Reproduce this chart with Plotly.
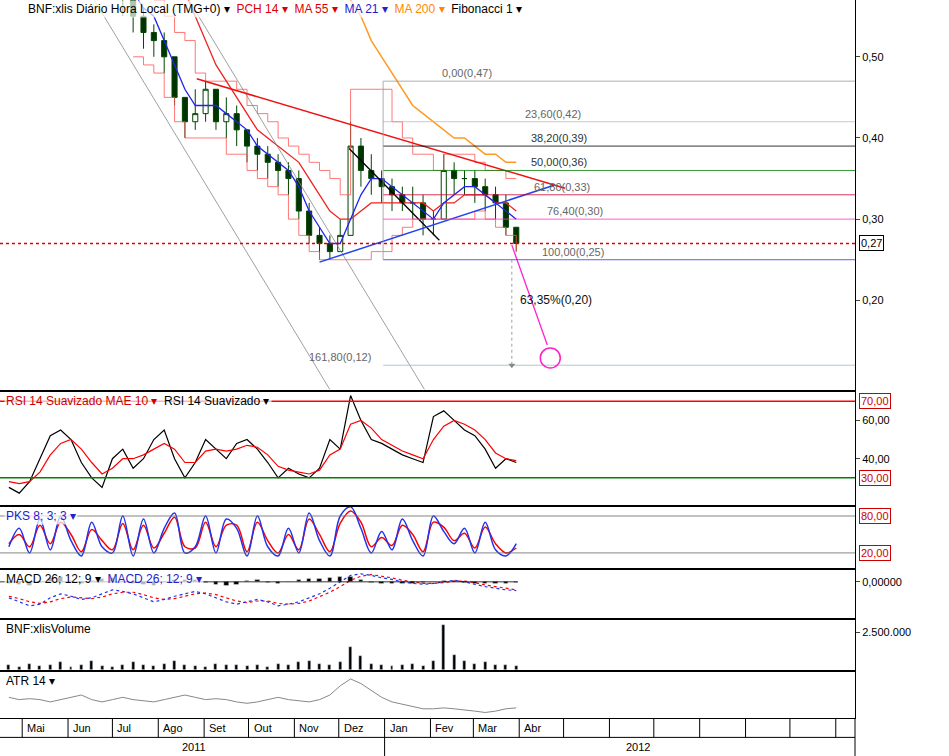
import pandas as pd
import plotly.graph_objects as go
from plotly.subplots import make_subplots

dates = pd.date_range("2011-04-22", periods=50, freq="7D")
close = [0.78,0.76,0.74,0.72,0.70,0.68,0.66,0.64,0.62,0.60,0.59,0.58,
         0.55,0.53,0.52,0.50,0.45,0.42,0.43,0.46,0.42,0.43,0.41,0.39,0.38,0.37,0.36,0.35,
         0.31,0.28,0.27,0.26,0.28,0.39,0.36,0.35,0.34,0.33,0.32,0.32,0.30,0.30,
         0.36,0.35,0.35,0.34,0.33,0.32,0.29,0.27]
high = [0.80,0.78,0.77,0.75,0.73,0.71,0.69,0.67,0.65,0.63,0.62,0.61,
        0.56,0.56,0.54,0.53,0.50,0.45,0.46,0.47,0.46,0.45,0.44,0.41,0.40,0.39,0.38,0.37,
        0.36,0.32,0.29,0.28,0.30,0.42,0.40,0.38,0.36,0.35,0.34,0.34,0.33,0.31,
        0.38,0.37,0.36,0.36,0.35,0.34,0.33,0.29]
low = [0.76,0.74,0.72,0.70,0.68,0.66,0.64,0.62,0.60,0.58,0.57,0.55,
       0.53,0.51,0.50,0.48,0.44,0.40,0.41,0.42,0.41,0.40,0.39,0.37,0.36,0.35,0.34,0.33,
       0.30,0.27,0.25,0.25,0.26,0.28,0.34,0.33,0.32,0.31,0.31,0.30,0.28,0.28,
       0.30,0.33,0.33,0.32,0.31,0.30,0.28,0.26]
opn = [close[0] + 0.01] + close[:-1]

ma21 = [0.85,0.83,0.81,0.79,0.77,0.75,0.73,0.70,0.67,0.64,0.62,0.60,
        0.58,0.56,0.55,0.52,0.49,0.46,0.44,0.44,0.44,0.43,0.42,0.41,0.39,0.38,0.37,0.36,
        0.34,0.31,0.29,0.27,0.27,0.30,0.33,0.35,0.35,0.34,0.33,0.32,0.31,0.30,
        0.32,0.33,0.34,0.34,0.33,0.32,0.31,0.30]
ma55 = [None]*12 + [0.72,0.69,0.66,0.63,0.61,0.58,0.55,0.52,0.49,0.47,0.45,0.43,0.41,0.40,0.39,0.38,
        0.37,0.35,0.33,0.31,0.30,0.30,0.31,0.32,0.32,0.32,0.32,0.32,0.32,0.31,
        0.32,0.32,0.33,0.33,0.33,0.32,0.32,0.31]
ma200 = [None]*32 + [0.60,0.57,0.55,0.52,0.50,0.48,0.46,0.44,0.43,0.42,0.41,0.40,0.40,0.39,0.38,0.38,0.37,0.37]
pch_hi = [None]*12 + [0.60,0.58,0.57,0.55,0.53,0.52,0.48,0.47,0.47,0.47,0.46,0.44,0.43,0.42,0.40,0.39,
          0.38,0.37,0.36,0.35,0.33,0.46,0.46,0.46,0.46,0.42,0.40,0.38,0.38,0.36,
          0.38,0.38,0.38,0.37,0.36,0.36,0.35,0.35]
pch_lo = [None]*12 + [0.50,0.49,0.48,0.45,0.42,0.40,0.40,0.40,0.40,0.38,0.38,0.36,0.35,0.34,0.33,0.30,
          0.28,0.26,0.25,0.25,0.25,0.25,0.25,0.26,0.26,0.28,0.29,0.30,0.30,0.30,
          0.30,0.30,0.30,0.31,0.30,0.29,0.28,0.26]

rsi = [25,22,28,40,52,55,50,38,30,25,40,45,35,40,50,55,40,30,38,50,45,40,48,50,45,38,30,35,32,30,
       35,50,45,73,60,50,48,45,42,40,38,62,65,60,55,52,45,35,40,38]
rsi_ma = [28,27,28,33,42,48,50,45,38,32,35,40,40,42,45,48,45,38,38,44,45,44,45,47,46,42,36,34,33,32,
          34,42,45,58,60,56,50,47,44,42,40,50,57,60,58,55,50,43,40,39]
pks_b = [30,60,20,75,25,80,40,15,70,30,20,80,15,75,20,60,85,20,30,80,20,75,60,15,80,30,15,60,20,85,
         40,15,80,95,60,20,55,25,75,40,15,80,55,35,60,20,70,25,15,35]
pks_r = [35,50,30,65,35,70,50,22,58,40,25,68,25,65,28,52,78,30,28,70,30,65,65,22,70,40,20,50,25,75,
         50,22,68,88,70,30,45,32,65,50,22,70,62,40,52,28,62,35,20,28]
macd = [-0.020,-0.025,-0.030,-0.028,-0.020,-0.015,-0.018,-0.022,-0.020,-0.015,-0.010,-0.012,-0.015,
        -0.020,-0.025,-0.022,-0.018,-0.015,-0.012,-0.015,-0.020,-0.025,-0.028,-0.025,-0.022,-0.025,
        -0.030,-0.028,-0.025,-0.020,-0.015,-0.008,0.000,0.008,0.010,0.008,0.005,0.003,0.000,-0.002,
        -0.003,-0.002,0.000,0.002,0.000,-0.003,-0.006,-0.008,-0.010,-0.011]
macd_sig = [-0.018,-0.021,-0.025,-0.027,-0.025,-0.021,-0.019,-0.020,-0.021,-0.019,-0.015,-0.013,-0.013,
            -0.016,-0.020,-0.022,-0.021,-0.018,-0.015,-0.014,-0.016,-0.020,-0.024,-0.026,-0.024,-0.024,
            -0.027,-0.028,-0.027,-0.024,-0.019,-0.013,-0.006,0.002,0.007,0.009,0.007,0.005,0.002,0.000,
            -0.002,-0.002,-0.001,0.001,0.001,-0.001,-0.004,-0.006,-0.008,-0.010]
macd_hist = [-0.002,-0.004,-0.005,-0.001,0.005,0.006,0.001,-0.002,0.001,0.004,0.005,0.001,-0.002,
             -0.004,-0.005,0.000,0.003,0.003,0.003,-0.001,-0.004,-0.005,-0.004,0.001,0.002,-0.001,
             -0.003,0.000,0.002,0.004,0.004,0.005,0.006,0.006,0.003,-0.001,-0.002,-0.002,-0.002,-0.002,
             -0.001,0.000,0.001,0.001,-0.001,-0.002,-0.002,-0.002,-0.002,-0.001]
volume = [300e3,200e3,400e3,250e3,300e3,500e3,200e3,300e3,600e3,250e3,200e3,350e3,500e3,300e3,
          250e3,400e3,600e3,300e3,250e3,200e3,400e3,300e3,350e3,250e3,300e3,200e3,400e3,350e3,
          500e3,600e3,400e3,300e3,500e3,1500e3,900e3,400e3,300e3,250e3,300e3,400e3,250e3,600e3,
          3000e3,1000e3,600e3,400e3,500e3,300e3,350e3,250e3]
atr = [0.55,0.50,0.52,0.50,0.45,0.50,0.55,0.60,0.50,0.45,0.50,0.55,0.50,0.48,0.45,0.50,0.55,0.60,
       0.55,0.50,0.52,0.50,0.45,0.42,0.45,0.50,0.55,0.50,0.48,0.45,0.50,0.60,0.80,0.95,0.85,0.70,
       0.55,0.45,0.40,0.35,0.30,0.30,0.32,0.30,0.28,0.25,0.22,0.25,0.30,0.32]

fib_levels = [0.47, 0.42, 0.39, 0.36, 0.33, 0.30, 0.25, 0.12]
fib_labels = ["0,00(0,47)", "23,60(0,42)", "38,20(0,39)", "50,00(0,36)", "61,80(0,33)",
              "76,40(0,30)", "100,00(0,25)", "161,80(0,12)"]
fib_colors = ["#999999", "#bbbbbb", "#000000", "#008000", "#cc0033", "#ff33cc", "#3333ff", "#99bbcc"]

months = ["Mai","Jun","Jul","Ago","Set","Out","Nov","Dez","Jan","Fev","Mar","Abr"]
month_start = pd.date_range("2011-05-01", periods=19, freq="MS")

X0, X1 = "2011-04-16", "2012-11-14"
FONT = "Liberation Sans"

fig = make_subplots(rows=6, cols=1, shared_xaxes=True, vertical_spacing=0.003,
                    row_heights=[390, 113, 61, 48, 50, 46])

fig.add_trace(go.Candlestick(x=dates, open=opn, high=high, low=low, close=close,
    increasing=dict(line=dict(color="#004400", width=1), fillcolor="white"),
    decreasing=dict(line=dict(color="#004400", width=1), fillcolor="#003300"),
    whiskerwidth=0), 1, 1)
fig.add_trace(go.Scatter(x=dates, y=pch_hi, line=dict(color="#ff5555", width=0.8, shape="hv")), 1, 1)
fig.add_trace(go.Scatter(x=dates, y=pch_lo, line=dict(color="#ff5555", width=0.8, shape="hv")), 1, 1)
fig.add_trace(go.Scatter(x=dates, y=ma55, line=dict(color="#ee2222", width=1.3)), 1, 1)
fig.add_trace(go.Scatter(x=dates, y=ma21, line=dict(color="#2222ee", width=1.3)), 1, 1)
fig.add_trace(go.Scatter(x=dates, y=ma200, line=dict(color="#ff9922", width=1.5)), 1, 1)

def seg(x0, y0, x1, y1, color, width=1.3, dash=None, row=1):
    fig.add_trace(go.Scatter(x=[x0, x1], y=[y0, y1], mode="lines",
                             line=dict(color=color, width=width, dash=dash)), row, 1)

seg("2011-06-19", 0.569, "2011-11-25", 0.09, "#888888", 0.8)
seg("2011-08-22", 0.569, "2012-01-28", 0.09, "#888888", 0.8)
seg("2011-08-27", 0.473, "2012-05-02", 0.338, "#ee1111", 1.5)
seg("2011-12-08", 0.387, "2012-02-07", 0.274, "#000000", 1.3)
seg("2011-11-18", 0.247, "2012-04-25", 0.342, "#2244ee", 1.5)
seg("2012-03-27", 0.268, "2012-04-20", 0.145, "#ff22cc", 1.3)
for lv, lb, c in zip(fib_levels, fib_labels, fib_colors):
    seg("2011-12-31", lv, X1, lv, c, 0.8)
seg("2011-12-31", 0.47, "2011-12-31", 0.25, "#999999", 0.8)
seg("2012-03-27", 0.25, "2012-03-27", 0.12, "#888888", 0.8, "dot")
seg(X0, 0.27, X1, 0.27, "#dd0000", 1.5, "dot")
fig.add_trace(go.Scatter(x=["2012-04-22"], y=[0.129], mode="markers",
    marker=dict(size=20, color="rgba(0,0,0,0)", line=dict(color="#ff22cc", width=1.5))), 1, 1)
fig.add_trace(go.Scatter(x=["2012-03-27"], y=[0.12], mode="markers",
    marker=dict(symbol="triangle-down", size=6, color="#888888")), 1, 1)
fib_x = ["2012-03-15", "2012-05-14", "2012-05-18", "2012-05-18", "2012-05-20", "2012-05-29", "2012-05-30", "2011-12-24"]
for lv, lb, fx in zip(fib_levels, fib_labels, fib_x):
    fig.add_annotation(x=fx, y=lv, text=lb, xanchor="right", yanchor="bottom", showarrow=False,
                       font=dict(size=11, color="#333333" if lb[:2] in ("38", "50") else "#666666"), row=1, col=1)
fig.add_annotation(x="2012-03-31", y=0.20, text="63,35%(0,20)", xanchor="left", showarrow=False,
                   font=dict(size=12, color="#111111"), row=1, col=1)

fig.add_trace(go.Scatter(x=dates, y=rsi, line=dict(color="black", width=1.2)), 2, 1)
fig.add_trace(go.Scatter(x=dates, y=rsi_ma, line=dict(color="red", width=1.2)), 2, 1)
seg(X0, 70, X1, 70, "red", 1.5, row=2)
seg(X0, 30, X1, 30, "green", 1.5, row=2)
fig.add_trace(go.Scatter(x=dates, y=pks_r, line=dict(color="red", width=1.5, shape="spline")), 3, 1)
fig.add_trace(go.Scatter(x=dates, y=pks_b, line=dict(color="#2233ee", width=1.5, shape="spline")), 3, 1)
seg(X0, 80, X1, 80, "#666666", 0.8, row=3)
seg(X0, 20, X1, 20, "#666666", 0.8, row=3)
fig.add_trace(go.Bar(x=dates, y=macd_hist, marker_color="black", width=3 * 86400000), 4, 1)
fig.add_trace(go.Scatter(x=dates, y=macd_sig, line=dict(color="red", width=1.2, dash="dot")), 4, 1)
fig.add_trace(go.Scatter(x=dates, y=macd, line=dict(color="#2233ee", width=1.2, dash="dot")), 4, 1)
seg(X0, 0, "2012-03-31", 0, "black", 0.8, row=4)
fig.add_trace(go.Bar(x=dates, y=volume, marker_color="black", width=2 * 86400000), 5, 1)
fig.add_trace(go.Scatter(x=dates, y=atr, line=dict(color="#888888", width=1)), 6, 1)

axfont = dict(family=FONT, size=11, color="black")
yspec = [
    ([0.09, 0.57], [0.2, 0.3, 0.4, 0.5], ["0,20", "0,30", "0,40", "0,50"]),
    ([16, 75], [40, 60], ["40,00", "60,00"]),
    ([-4, 95], [], []),
    ([-0.045, 0.015], [0], ["0,00000"]),
    ([0, 3.3e6], [2.5e6], ["2.500.000"]),
    ([0.1, 1.1], [], []),
]
for i, (rng, tv, tt) in enumerate(yspec, start=1):
    fig.update_yaxes(range=rng, tickvals=tv, ticktext=tt, side="right", showgrid=False,
                     zeroline=False, showline=True, mirror=True, linecolor="black", linewidth=1,
                     ticks="outside", ticklen=4, tickfont=axfont, fixedrange=True, row=i, col=1)
for i in range(1, 7):
    fig.update_xaxes(range=[X0, X1], showgrid=False, showline=True, mirror=True, linecolor="black",
                     rangeslider_visible=False, showticklabels=False, ticks="", row=i, col=1)

def boxlab(yref, yv, text, color):
    fig.add_annotation(xref="paper", x=1.0, xanchor="left", xshift=4, yref=yref, y=yv, text=text,
                       showarrow=False, font=dict(family=FONT, size=11, color=color),
                       bordercolor=color, borderwidth=1, borderpad=1, bgcolor="white")
boxlab("y", 0.27, "0,27", "black")
boxlab("y2", 70, "70,00", "#cc0000")
boxlab("y2", 30, "30,00", "#cc0000")
boxlab("y3", 80, "80,00", "#cc0000")
boxlab("y3", 20, "20,00", "#cc0000")

titles = [
    ("y domain", [("BNF:xlis Diário Hora Local (TMG+0) ▾", "black"), ("PCH 14 ▾", "#dd0000"),
                  ("MA 55 ▾", "#dd0000"), ("MA 21 ▾", "#2222cc"), ("MA 200 ▾", "#ff8800"), ("Fibonacci 1 ▾", "black")]),
    ("y2 domain", [("RSI 14 Suavizado MAE 10 ▾", "#cc0000"), ("RSI 14 Suavizado ▾", "black")]),
    ("y3 domain", [("PKS 8; 3; 3 ▾", "#2222cc")]),
    ("y4 domain", [("MACD 26; 12; 9 ▾", "black"), ("MACD 26; 12; 9 ▾", "#2222cc")]),
    ("y5 domain", [("BNF:xlisVolume", "black")]),
    ("y6 domain", [("ATR 14 ▾", "black")]),
]
for n, (yref, parts) in enumerate(titles):
    txt = "  ".join(f"<span style='color:{c}'>{t}</span>" for t, c in parts)
    fig.add_annotation(xref="paper", x=0.005 if n else 0.03, xanchor="left", yref=yref, y=1, yanchor="top",
                       text=txt, showarrow=False, font=dict(family=FONT, size=12), bgcolor="rgba(255,255,255,0.7)")

for k, ms in enumerate(month_start):
    fig.add_shape(type="line", xref="x6", x0=ms, x1=ms, yref="paper", y0=0, y1=-0.027,
                  line=dict(color="black", width=1))
    if k < len(months):
        fig.add_annotation(xref="x6", x=ms, xanchor="left", xshift=3, yref="paper", y=0, yshift=-2,
                           yanchor="top", text=months[k], showarrow=False, font=axfont)
fig.add_shape(type="line", xref="paper", x0=0, x1=1, yref="paper", y0=-0.027, y1=-0.027,
              line=dict(color="black", width=1))
fig.add_shape(type="line", xref="x6", x0="2012-01-01", x1="2012-01-01", yref="paper", y0=-0.027, y1=-0.053,
              line=dict(color="black", width=1))
fig.add_shape(type="line", xref="paper", x0=1, x1=1, yref="paper", y0=0, y1=-0.053,
              line=dict(color="black", width=1))
fig.add_annotation(xref="x6", x="2011-08-25", yref="paper", y=-0.027, yshift=-2, yanchor="top", text="2011",
                   showarrow=False, font=axfont)
fig.add_annotation(xref="x6", x="2012-06-20", yref="paper", y=-0.027, yshift=-2, yanchor="top", text="2012",
                   showarrow=False, font=axfont)

fig.update_layout(width=949, height=756, margin=dict(l=0, r=94, t=0, b=38, autoexpand=False),
                  plot_bgcolor="white", paper_bgcolor="white", showlegend=False,
                  font=dict(family=FONT), bargap=0)
fig.write_html("out.html", config={"displayModeBar": False},
               post_script="document.body.style.margin='0';document.body.style.overflow='hidden';")
